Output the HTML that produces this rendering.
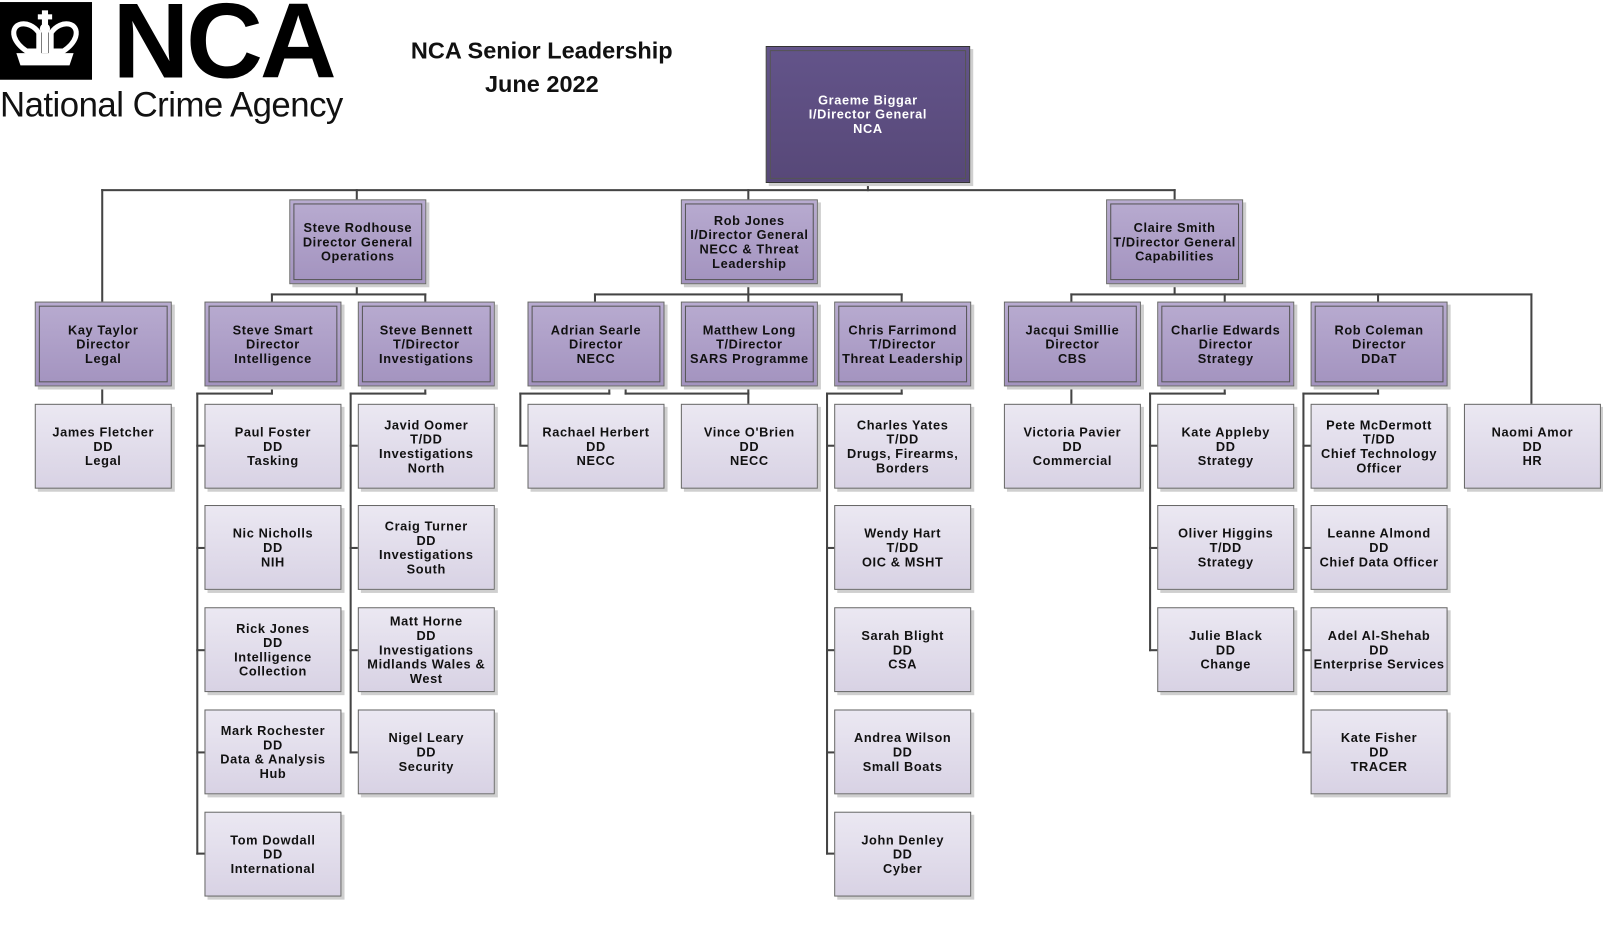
<!DOCTYPE html>
<html><head><meta charset="utf-8">
<style>
body{margin:0;width:1603px;height:942px;background:#fff;position:relative;overflow:hidden;font-family:"Liberation Sans","DejaVu Sans",sans-serif}
#w{position:absolute;left:0;top:0;width:1568px;height:921px;transform:scale(1.0223);transform-origin:0 0}
.b{position:absolute;width:134px;height:83px;box-sizing:border-box;border:1px solid #666;display:flex;align-items:center;justify-content:center;text-align:center;font-weight:bold;font-size:12.5px;line-height:14px;letter-spacing:0.6px;color:#111;box-shadow:3px 3px 0 #cfcfcf}
.d{background:linear-gradient(#b8abd0,#a393bf)}
.d::after{content:"";position:absolute;left:3px;top:3px;right:3px;bottom:3px;border:1px solid #555}
.s{background:linear-gradient(#ebe8f2,#d8d2e4)}
.l{position:absolute;background:#444}
.h{height:2px}.v{width:2px}
</style></head><body><div id="w">
<!-- logo -->
<div style="position:absolute;left:0;top:2px;width:90px;height:76px;background:#000"></div>
<svg style="position:absolute;left:6px;top:10px" width="78" height="62" viewBox="0 0 78 62">
<g fill="#fff"><rect x="35" y="0" width="6" height="14"/><rect x="31" y="4" width="14" height="5"/><circle cx="38" cy="18" r="5"/><rect x="35" y="20" width="6" height="22"/>
<path d="M8 26 C4 12 22 8 32 22 L32 40 L20 40 C14 36 10 32 8 26Z" fill="none" stroke="#fff" stroke-width="5"/>
<path d="M68 26 C72 12 54 8 44 22 L44 40 L56 40 C62 36 66 32 68 26Z" fill="none" stroke="#fff" stroke-width="5"/>
<path d="M10 42 L66 42 L62 54 L14 54Z"/></g></svg>
<div style="position:absolute;left:110px;top:-18px;font-size:104px;font-weight:bold;letter-spacing:-3px;color:#000">NCA</div>
<div style="position:absolute;left:0;top:84px;font-size:34px;color:#111;letter-spacing:-0.5px">National Crime Agency</div>
<div style="position:absolute;left:380px;top:33px;width:300px;text-align:center;font-weight:bold;font-size:23px;line-height:33px;color:#111">NCA Senior Leadership<br>June 2022</div>

<!-- lines -->
<div class="l v" style="left:848px;top:178px;height:9px"></div>
<div class="l h" style="left:99px;top:185px;width:1051px"></div>
<div class="l v" style="left:99px;top:185px;height:110px"></div>
<div class="l v" style="left:348px;top:185px;height:10px"></div>
<div class="l v" style="left:731px;top:185px;height:10px"></div>
<div class="l v" style="left:1148px;top:185px;height:10px"></div>

<div class="l v" style="left:348px;top:278px;height:10px"></div>
<div class="l h" style="left:265px;top:287px;width:152px"></div>
<div class="l v" style="left:265px;top:287px;height:8px"></div>
<div class="l v" style="left:415px;top:287px;height:8px"></div>

<div class="l v" style="left:731px;top:278px;height:17px"></div>
<div class="l h" style="left:581px;top:287px;width:302px"></div>
<div class="l v" style="left:581px;top:287px;height:8px"></div>
<div class="l v" style="left:881px;top:287px;height:8px"></div>

<div class="l v" style="left:1148px;top:278px;height:10px"></div>
<div class="l h" style="left:1047px;top:287px;width:452px"></div>
<div class="l v" style="left:1047px;top:287px;height:8px"></div>
<div class="l v" style="left:1197px;top:287px;height:8px"></div>
<div class="l v" style="left:1347px;top:287px;height:8px"></div>
<div class="l v" style="left:1497px;top:287px;height:108px"></div>

<div class="l v" style="left:99px;top:378px;height:17px"></div>
<div class="l v" style="left:1047px;top:378px;height:17px"></div>

<div class="l v" style="left:265px;top:378px;height:8px"></div>
<div class="l h" style="left:192px;top:384px;width:75px"></div>
<div class="l v" style="left:192px;top:384px;height:452px"></div>
<div class="l v" style="left:415px;top:378px;height:8px"></div>
<div class="l h" style="left:342px;top:384px;width:75px"></div>
<div class="l v" style="left:342px;top:384px;height:353px"></div>
<div class="l v" style="left:881px;top:378px;height:8px"></div>
<div class="l h" style="left:808px;top:384px;width:75px"></div>
<div class="l v" style="left:808px;top:384px;height:452px"></div>
<div class="l v" style="left:1197px;top:378px;height:8px"></div>
<div class="l h" style="left:1124px;top:384px;width:75px"></div>
<div class="l v" style="left:1124px;top:384px;height:253px"></div>
<div class="l v" style="left:1347px;top:378px;height:8px"></div>
<div class="l h" style="left:1274px;top:384px;width:75px"></div>
<div class="l v" style="left:1274px;top:384px;height:353px"></div>

<div class="l v" style="left:595px;top:378px;height:8px"></div>
<div class="l h" style="left:508px;top:384px;width:89px"></div>
<div class="l v" style="left:508px;top:384px;height:52px"></div>
<div class="l h" style="left:508px;top:435px;width:8px"></div>
<div class="l v" style="left:611px;top:378px;height:8px"></div>
<div class="l h" style="left:611px;top:384px;width:122px"></div>
<div class="l v" style="left:731px;top:378px;height:17px"></div>

<!-- ticks -->
<div class="l h" style="left:192px;top:435px;width:8px"></div>
<div class="l h" style="left:192px;top:535px;width:8px"></div>
<div class="l h" style="left:192px;top:635px;width:8px"></div>
<div class="l h" style="left:192px;top:735px;width:8px"></div>
<div class="l h" style="left:192px;top:834px;width:8px"></div>
<div class="l h" style="left:342px;top:435px;width:8px"></div>
<div class="l h" style="left:342px;top:535px;width:8px"></div>
<div class="l h" style="left:342px;top:635px;width:8px"></div>
<div class="l h" style="left:342px;top:735px;width:8px"></div>
<div class="l h" style="left:808px;top:435px;width:8px"></div>
<div class="l h" style="left:808px;top:535px;width:8px"></div>
<div class="l h" style="left:808px;top:635px;width:8px"></div>
<div class="l h" style="left:808px;top:735px;width:8px"></div>
<div class="l h" style="left:808px;top:834px;width:8px"></div>
<div class="l h" style="left:1124px;top:435px;width:8px"></div>
<div class="l h" style="left:1124px;top:535px;width:8px"></div>
<div class="l h" style="left:1124px;top:635px;width:8px"></div>
<div class="l h" style="left:1274px;top:435px;width:8px"></div>
<div class="l h" style="left:1274px;top:535px;width:8px"></div>
<div class="l h" style="left:1274px;top:635px;width:8px"></div>
<div class="l h" style="left:1274px;top:735px;width:8px"></div>

<!-- top -->
<div class="b d" style="left:749px;top:45px;width:200px;height:134px;background:linear-gradient(#63548a,#574878);color:#fff;border-color:#333">Graeme Biggar<br>I/Director General<br>NCA</div>
<div class="b d" style="left:283px;top:195px">Steve Rodhouse<br>Director General<br>Operations</div>
<div class="b d" style="left:666px;top:195px">Rob Jones<br>I/Director General<br>NECC &amp; Threat<br>Leadership</div>
<div class="b d" style="left:1082px;top:195px">Claire Smith<br>T/Director General<br>Capabilities</div>

<!-- directors -->
<div class="b d" style="left:34px;top:295px">Kay Taylor<br>Director<br>Legal</div>
<div class="b d" style="left:200px;top:295px">Steve Smart<br>Director<br>Intelligence</div>
<div class="b d" style="left:350px;top:295px">Steve Bennett<br>T/Director<br>Investigations</div>
<div class="b d" style="left:516px;top:295px">Adrian Searle<br>Director<br>NECC</div>
<div class="b d" style="left:666px;top:295px;">Matthew Long<br>T/Director<br>SARS Programme</div>
<div class="b d" style="left:816px;top:295px">Chris Farrimond<br>T/Director<br>Threat Leadership</div>
<div class="b d" style="left:982px;top:295px">Jacqui Smillie<br>Director<br>CBS</div>
<div class="b d" style="left:1132px;top:295px">Charlie Edwards<br>Director<br>Strategy</div>
<div class="b d" style="left:1282px;top:295px">Rob Coleman<br>Director<br>DDaT</div>

<!-- DDs -->
<div class="b s" style="left:34px;top:395px">James Fletcher<br>DD<br>Legal</div>
<div class="b s" style="left:200px;top:395px">Paul Foster<br>DD<br>Tasking</div>
<div class="b s" style="left:200px;top:494px">Nic Nicholls<br>DD<br>NIH</div>
<div class="b s" style="left:200px;top:594px">Rick Jones<br>DD<br>Intelligence<br>Collection</div>
<div class="b s" style="left:200px;top:694px">Mark Rochester<br>DD<br>Data &amp; Analysis<br>Hub</div>
<div class="b s" style="left:200px;top:794px">Tom Dowdall<br>DD<br>International</div>
<div class="b s" style="left:350px;top:395px">Javid Oomer<br>T/DD<br>Investigations<br>North</div>
<div class="b s" style="left:350px;top:494px">Craig Turner<br>DD<br>Investigations<br>South</div>
<div class="b s" style="left:350px;top:594px">Matt Horne<br>DD<br>Investigations<br>Midlands Wales &amp;<br>West</div>
<div class="b s" style="left:350px;top:694px">Nigel Leary<br>DD<br>Security</div>
<div class="b s" style="left:516px;top:395px">Rachael Herbert<br>DD<br>NECC</div>
<div class="b s" style="left:666px;top:395px">Vince O'Brien<br>DD<br>NECC</div>
<div class="b s" style="left:816px;top:395px">Charles Yates<br>T/DD<br>Drugs, Firearms,<br>Borders</div>
<div class="b s" style="left:816px;top:494px">Wendy Hart<br>T/DD<br>OIC &amp; MSHT</div>
<div class="b s" style="left:816px;top:594px">Sarah Blight<br>DD<br>CSA</div>
<div class="b s" style="left:816px;top:694px">Andrea Wilson<br>DD<br>Small Boats</div>
<div class="b s" style="left:816px;top:794px">John Denley<br>DD<br>Cyber</div>
<div class="b s" style="left:982px;top:395px">Victoria Pavier<br>DD<br>Commercial</div>
<div class="b s" style="left:1132px;top:395px">Kate Appleby<br>DD<br>Strategy</div>
<div class="b s" style="left:1132px;top:494px">Oliver Higgins<br>T/DD<br>Strategy</div>
<div class="b s" style="left:1132px;top:594px">Julie Black<br>DD<br>Change</div>
<div class="b s" style="left:1282px;top:395px">Pete McDermott<br>T/DD<br>Chief Technology<br>Officer</div>
<div class="b s" style="left:1282px;top:494px">Leanne Almond<br>DD<br>Chief Data Officer</div>
<div class="b s" style="left:1282px;top:594px">Adel Al-Shehab<br>DD<br>Enterprise Services</div>
<div class="b s" style="left:1282px;top:694px">Kate Fisher<br>DD<br>TRACER</div>
<div class="b s" style="left:1432px;top:395px">Naomi Amor<br>DD<br>HR</div>
</div></body></html>
